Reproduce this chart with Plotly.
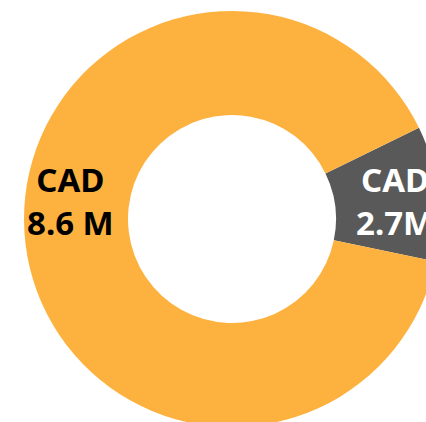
import plotly.graph_objects as go

# Slices as drawn (share of the ring)
categories = ["Other", "Main"]
arc_share = [10.5, 89.5]
label_text = ["CAD<br>2.7M", "CAD<br>8.6 M"]
colors = ["#595959", "#FDB240"]
text_colors = ["#FFFFFF", "#000000"]
label_px = [(395, 201), (70, 201)]  # label centres in page pixels

W, H = 464, 438
cx, cy, R = 232, 219, 208

fig = go.Figure(
    go.Pie(
        labels=categories,
        values=arc_share,
        textinfo="none",
        marker=dict(colors=colors, line=dict(width=0)),
        hole=0.5,
        sort=False,
        direction="clockwise",
        rotation=64,
        hoverinfo="none",
        domain=dict(x=[(cx - R) / W, (cx + R) / W], y=[1 - (cy + R) / H, 1 - (cy - R) / H]),
    )
)
for txt, col, (px, py) in zip(label_text, text_colors, label_px):
    fig.add_annotation(
        x=px / W, y=1 - py / H, xref="paper", yref="paper",
        text=txt, showarrow=False, xanchor="center", yanchor="middle",
        font=dict(family="Noto Sans", size=33, color=col, weight="bold"),
    )
fig.update_layout(
    width=W,
    height=H,
    margin=dict(l=0, r=0, t=0, b=0),
    showlegend=False,
    paper_bgcolor="white",
    plot_bgcolor="white",
)
fig.write_html(
    "out.html",
    config={"displayModeBar": False},
    post_script="document.documentElement.style.overflow='hidden';document.body.style.overflow='hidden';document.body.style.margin='0';",
)
